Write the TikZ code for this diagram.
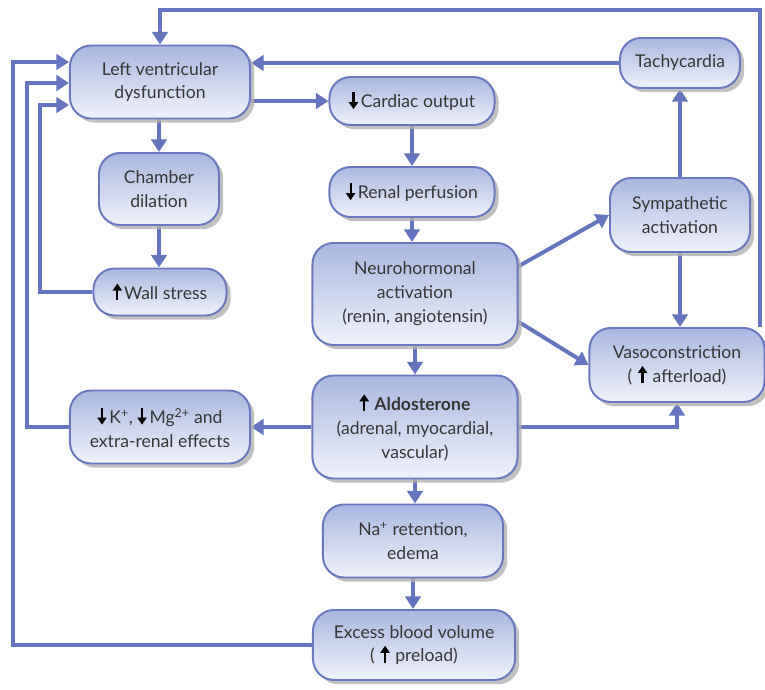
\documentclass[tikz,border=0pt]{standalone}
\usepackage{fontspec}
\setmainfont{Lato}
\usepackage{tikz}
\usetikzlibrary{arrows.meta,shadows,backgrounds}

\definecolor{boxline}{HTML}{6A78C0}
\definecolor{linkline}{HTML}{6574BE}
\definecolor{boxtop}{HTML}{A9B7E1}
\definecolor{boxbot}{HTML}{F0F3FB}
\definecolor{txt}{HTML}{363636}

% small black up/down arrows in the texts
\newcommand{\up}{\tikz[baseline=0pt]\draw[black, line width=1.5pt, -{Triangle[length=5pt, width=6.5pt]}] (0pt,-0.5pt) -- (0pt,11.5pt);}
\newcommand{\dn}{\tikz[baseline=0pt]\draw[black, line width=1.5pt, -{Triangle[length=5pt, width=6.5pt]}] (0pt,11pt) -- (0pt,-1pt);}
\newcommand{\gap}{\hspace{4pt}}

\begin{document}
\begin{tikzpicture}[x=0.025cm, y=-0.025cm,
			every node/.style={font=\fontsize{12.5}{17}\selectfont, text=txt},
			box/.style={draw=boxline, line width=1.4pt, rounded corners=15pt, top color=boxtop, bottom color=boxbot, align=center, inner sep=0pt,
				drop shadow={shadow xshift=3pt, shadow yshift=-3pt, fill=black!30, opacity=0.8}},
			link/.style={draw=linkline, line width=2.8pt},
			arr/.style={link, -{Triangle[length=9pt, width=11pt]}}]
			\useasboundingbox (0,0) rectangle (765,690);
			\node[box, minimum width=4.5cm, minimum height=1.825cm] (lvd) at (160,82) {Left ventricular\\dysfunction};
			\node[box, minimum width=3cm, minimum height=1.8cm] (cd) at (159,189) {Chamber\\dilation};
			\node[box, minimum width=3.325cm, minimum height=1.175cm] (ws) at (160,292) {\up\hspace{1.5pt}Wall stress};
			\node[box, minimum width=4.125cm, minimum height=1.2cm] (co) at (412,101) {\dn\hspace{2pt}Cardiac output};
			\node[box, minimum width=4.125cm, minimum height=1.25cm] (rp) at (412,192) {\dn\hspace{2pt}Renal perfusion};
			\node[box, minimum width=5.125cm, minimum height=2.55cm] (nh) at (415,294) {Neurohormonal\\activation\\(renin, angiotensin)};
			\node[box, minimum width=5.125cm, minimum height=2.575cm] (al) at (415,427) {\up\gap\textbf{Aldosterone}\\(adrenal, myocardial,\\vascular)};
			\node[box, minimum width=4.5cm, minimum height=1.825cm] (km) at (160,427) {\dn\,K\textsuperscript{+}, \dn\,Mg\textsuperscript{2+} and\\extra-renal effects};
			\node[box, minimum width=4.5cm, minimum height=1.825cm] (na) at (413,541) {Na\textsuperscript{+} retention,\\edema};
			\node[box, minimum width=5.05cm, minimum height=1.75cm] (eb) at (414,645) {Excess blood volume\\(\gap\up\gap preload)};
			\node[box, minimum width=3cm, minimum height=1.25cm] (ta) at (680,63) {Tachycardia};
			\node[box, minimum width=3.5cm, minimum height=1.85cm] (sa) at (680,215) {Sympathetic\\activation};
			\node[box, minimum width=4.375cm, minimum height=1.85cm] (vc) at (677,365) {Vasoconstriction\\(\gap\up\gap afterload)};
			% loop ends
			\coordinate (looptop) at (760,10);
			\coordinate (l1) at (13,62);
			\coordinate (l2) at (27,83);
			\coordinate (l3) at (40,105);
			\begin{scope}[on background layer]
				\draw[arr] (vc.north east -| looptop) -- (looptop) -| (lvd.north);
				\draw[arr] (ta.west) -- (ta.west -| lvd.east);
				\draw[arr] (lvd.east |- co.west) -- (co.west);
				\draw[arr] (lvd.south -| cd.north) -- (cd.north);
				\draw[arr] (cd.south) -- (cd.south |- ws.north);
				\draw[arr] (ws.west) -| (l3) -- (l3 -| lvd.west);
				\draw[arr] (km.west) -| (l2) -- (l2 -| lvd.west);
				\draw[arr] (eb.west) -| (l1) -- (l1 -| lvd.west);
				\draw[arr] (co.south) -- (co.south |- rp.north);
				\draw[arr] (rp.south) -- (rp.south |- nh.north);
				\draw[arr] (nh.south) -- (al.north);
				\draw[arr] (al.south) -- (al.south |- na.north);
				\draw[arr] (na.south) -- (na.south |- eb.north);
				\draw[arr] (nh.15) -- (sa.west);
				\draw[arr] (nh.-15) -- (vc.west);
				\draw[arr] (sa.north) -- (sa.north |- ta.south);
				\draw[arr] (sa.south) -- (sa.south |- vc.north);
				\draw[arr] (al.west) -- (al.west -| km.east);
				\draw[arr] (al.east) -| (vc.south);
			\end{scope}
		\end{tikzpicture}
\end{document}
